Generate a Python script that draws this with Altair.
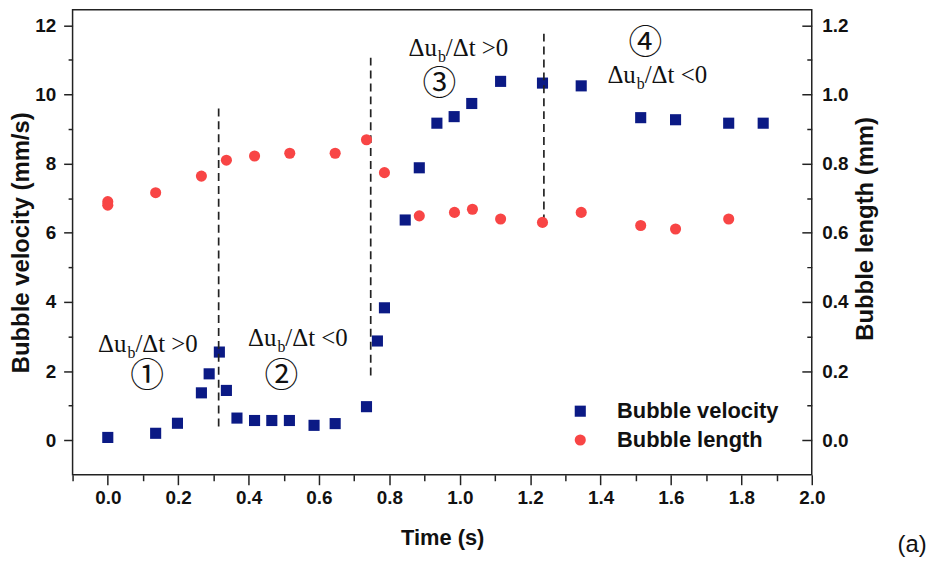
import altair as alt
import pandas as pd

# ---------------- data ----------------
vel_t = [0.0, 0.136, 0.198, 0.266, 0.288, 0.317, 0.337, 0.367, 0.417, 0.466, 0.516,
         0.586, 0.646, 0.735, 0.766, 0.786, 0.845, 0.885, 0.935, 0.984, 1.034,
         1.116, 1.235, 1.345, 1.514, 1.613, 1.764, 1.862]
vel_v = [0.08, 0.2, 0.49, 1.37, 1.92, 2.55, 1.44, 0.64, 0.57, 0.57, 0.57,
         0.43, 0.48, 0.97, 2.87, 3.83, 6.37, 7.88, 9.17, 9.36, 9.74,
         10.38, 10.33, 10.25, 9.33, 9.27, 9.17, 9.17]

len_t = [0.0, 0.0, 0.136, 0.266, 0.337, 0.417, 0.517, 0.646, 0.735, 0.786,
         0.885, 0.985, 1.036, 1.116, 1.235, 1.345, 1.514, 1.613, 1.764]
len_L = [0.69, 0.68, 0.716, 0.764, 0.810, 0.822, 0.830, 0.830, 0.869, 0.774,
         0.649, 0.659, 0.668, 0.640, 0.630, 0.659, 0.621, 0.611, 0.640]

div_t = [0.315, 0.747, 1.239]
div_v1 = [0.4, 1.87, 6.3]
div_v2 = [9.6, 11.1, 11.9]

ann_t = [0.053, 0.479, 0.935, 1.500]
ann_v = [2.54, 2.72, 11.11, 10.34]
ann_sign = [">0", "<0", ">0", "<0"]

circ_label = ["①", "②", "③", "④"]
circ_t = [0.112, 0.493, 0.942, 1.527]
circ_v = [1.83, 1.83, 10.28, 11.45]

series_names = ["Bubble velocity", "Bubble length"]
series_colors = ["#0b1a85", "#f84545"]

x_ticks = [-0.1, 0.0, 0.1, 0.2, 0.3, 0.4, 0.5, 0.6, 0.7, 0.8, 0.9, 1.0,
           1.1, 1.2, 1.3, 1.4, 1.5, 1.6, 1.7, 1.8, 1.9, 2.0]
yl_ticks = [0, 1, 2, 3, 4, 5, 6, 7, 8, 9, 10, 11, 12]
yr_ticks = [0.0, 0.1, 0.2, 0.3, 0.4, 0.5, 0.6, 0.7, 0.8, 0.9, 1.0, 1.1, 1.2]

# ---------------- tables ----------------
vel_df = pd.DataFrame({"t": vel_t, "v": vel_v, "series": series_names[0]})
len_df = pd.DataFrame({"t": len_t, "L": len_L, "series": series_names[1]})
div_df = pd.DataFrame({"t": div_t, "v": div_v1, "v2": div_v2})
ann_df = pd.DataFrame({"t": ann_t, "v": ann_v,
                       "main": ["Δu"] * 4, "sub": ["b"] * 4,
                       "rest": ["/Δt " + s for s in ann_sign]})
circ_df = pd.DataFrame({"t": circ_t, "v": circ_v, "label": circ_label})
tag_df = pd.DataFrame({"label": ["(a)"]})

SANS = "Liberation Sans"
SERIF = "Liberation Serif"

x_axis = alt.Axis(
    values=x_ticks,
    labelExpr="abs(round(datum.value*10)) % 2 == 0 ? format(datum.value, '.1f') : ''",
    tickSize={"condition": {"test": "abs(round(datum.value*10)) % 2 == 0", "value": 10}, "value": 6},
    tickColor="#222", tickWidth=1.5, domain=False, grid=False,
    labelFont=SANS, labelFontWeight="bold", labelFontSize=19, labelColor="#111",
    labelPadding=4, labelFlush=False,
    title="Time (s)", titleFont=SANS, titleFontWeight="bold", titleFontSize=22,
    titleColor="#111", titlePadding=20,
)
x_enc = alt.X("t:Q", scale=alt.Scale(domain=[-0.1, 2.0], nice=False, zero=False), axis=x_axis)

left_axis = alt.Axis(
    values=yl_ticks, orient="left",
    labelExpr="datum.value % 2 == 0 ? format(datum.value, 'd') : ''",
    tickSize={"condition": {"test": "datum.value % 2 == 0", "value": 9}, "value": 4.5},
    tickColor="#222", tickWidth=1.5, domain=False, grid=False,
    labelFont=SANS, labelFontWeight="bold", labelFontSize=19, labelColor="#111",
    labelPadding=8, labelFlush=False,
    title="Bubble velocity (mm/s)", titleFont=SANS, titleFontWeight="bold",
    titleFontSize=24, titleColor="#111", titlePadding=1,
)
y_scale = alt.Scale(domain=[-1.0, 12.45], nice=False, zero=False)
y_enc = alt.Y("v:Q", scale=y_scale, axis=left_axis)

right_axis = alt.Axis(
    values=yr_ticks, orient="right", offset=-10,
    labelExpr="round(datum.value*10) % 2 == 0 ? format(datum.value, '.1f') : ''",
    tickSize=10,
    tickDash={"condition": {"test": "round(datum.value*10) % 2 == 0", "value": []}, "value": [0, 5, 5, 5]},
    tickColor="#222", tickWidth=1.5, domain=False, grid=False,
    labelFont=SANS, labelFontWeight="bold", labelFontSize=19, labelColor="#111",
    labelPadding=10, labelFlush=False,
    title="Bubble length (mm)", titleFont=SANS, titleFontWeight="bold",
    titleFontSize=24, titleColor="#111", titlePadding=6, titleAngle=270,
    titleBaseline="top", titleY=220, titleAlign="center",
)

color_enc = alt.Color("series:N", scale=alt.Scale(domain=series_names, range=series_colors),
                      legend=alt.Legend(title=None))
shape_enc = alt.Shape("series:N", scale=alt.Scale(domain=series_names, range=["square", "circle"]),
                      legend=alt.Legend(title=None))

vel_layer = alt.Chart(vel_df).mark_point(filled=True, opacity=1, size=125).encode(
    x=x_enc, y=y_enc, color=color_enc, shape=shape_enc)

div_layer = alt.Chart(div_df).mark_rule(color="#222", strokeWidth=1.7, strokeDash=[8, 5]).encode(
    x=x_enc, y=y_enc, y2=alt.Y2("v2:Q"))

main_txt = alt.Chart(ann_df).mark_text(font=SERIF, fontSize=25, align="right",
                                       baseline="alphabetic", color="#111").encode(
    x=x_enc, y=y_enc, text="main:N")
sub_txt = alt.Chart(ann_df).mark_text(font=SERIF, fontSize=16, align="left",
                                      baseline="alphabetic", dx=1, dy=6, color="#111").encode(
    x=x_enc, y=y_enc, text="sub:N")
rest_txt = alt.Chart(ann_df).mark_text(font=SERIF, fontSize=25, align="left",
                                       baseline="alphabetic", dx=9, color="#111").encode(
    x=x_enc, y=y_enc, text="rest:N")
circ_txt = alt.Chart(circ_df).mark_text(font="Noto Sans CJK JP", fontSize=34, align="center",
                                        baseline="middle", color="#111").encode(
    x=x_enc, y=y_enc, text="label:N")
tag_txt = alt.Chart(tag_df).mark_text(font=SANS, fontSize=24, align="center",
                                      baseline="middle", color="#111").encode(
    x=alt.value(845), y=alt.value(539), text="label:N")

left_group = alt.layer(vel_layer, div_layer, main_txt, sub_txt, rest_txt, circ_txt, tag_txt)

len_layer = alt.Chart(len_df).mark_point(filled=True, opacity=1, size=125).encode(
    x=x_enc,
    y=alt.Y("L:Q", scale=alt.Scale(domain=[-0.1, 1.245], nice=False, zero=False), axis=right_axis),
    color=color_enc, shape=shape_enc)

chart = alt.layer(left_group, len_layer).resolve_scale(y="independent").properties(
    width=744, height=468,
    autosize=alt.AutoSizeParams(type="none"),
    padding={"left": 65, "top": 0, "right": 118, "bottom": 90},
    background="white",
).configure_view(stroke="#222", strokeWidth=1.5).configure_legend(
    orient="none", legendX=500, legendY=393, padding=0, labelOffset=26,
    symbolSize=125, labelFont=SANS, labelFontWeight="bold", labelFontSize=22,
    labelColor="#111", rowPadding=7, symbolStrokeWidth=0, symbolOpacity=1,
    labelLimit=400,
)

chart.save("out.html", embed_options={"renderer": "svg", "actions": False})
